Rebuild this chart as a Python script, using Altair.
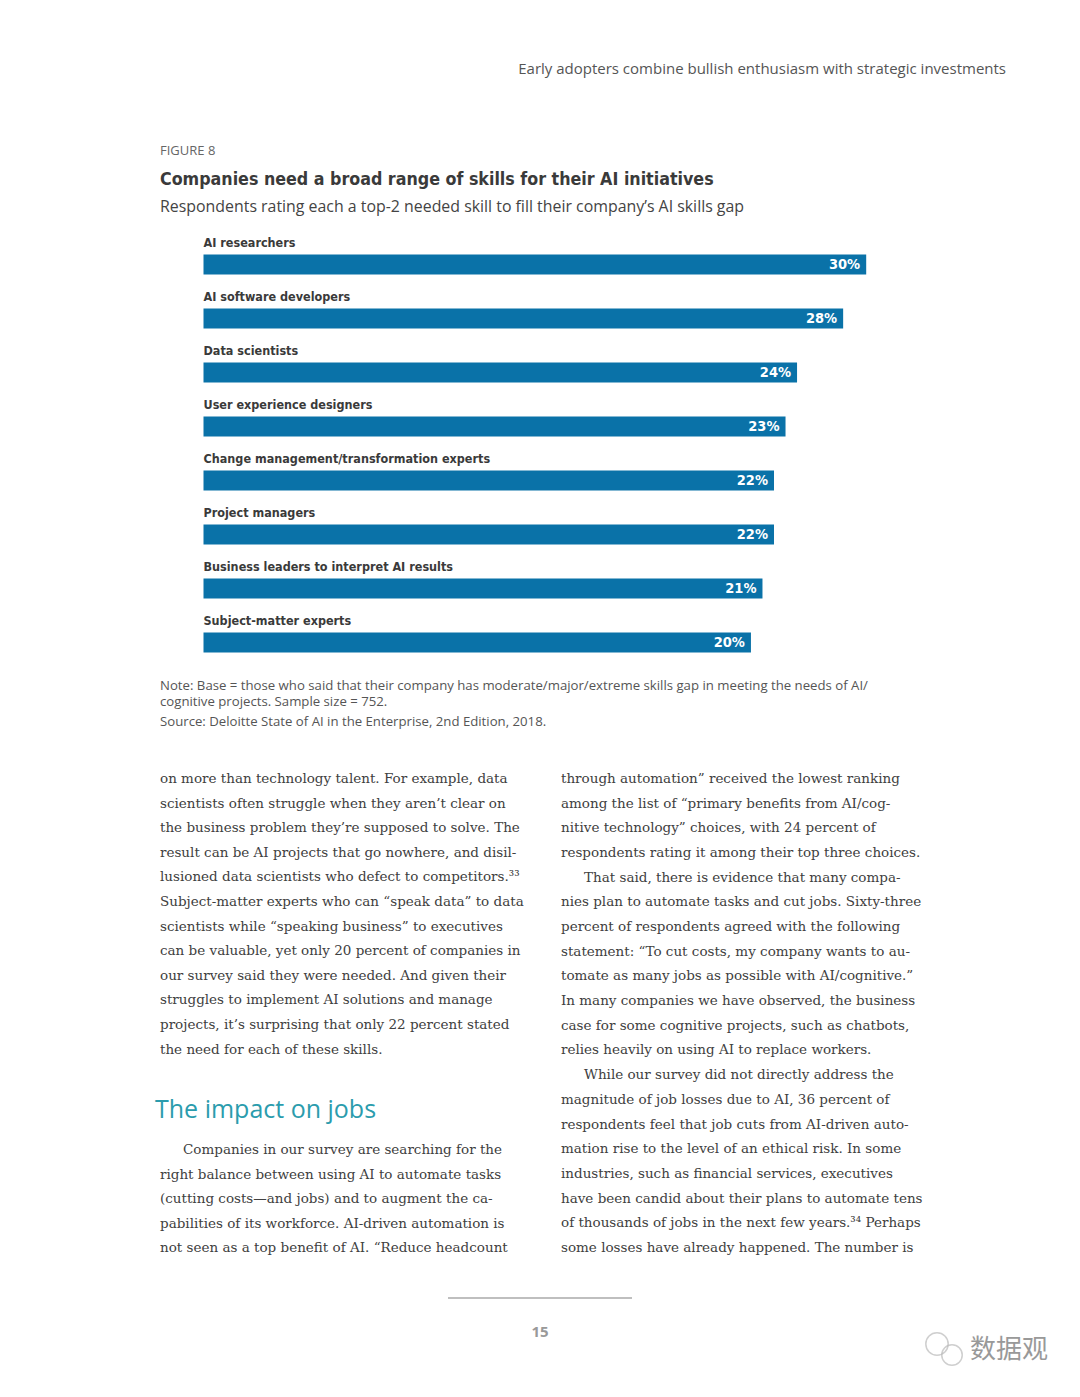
import altair as alt
import pandas as pd

# ---------------- data ----------------
skills = [
    "AI researchers",
    "AI software developers",
    "Data scientists",
    "User experience designers",
    "Change management/transformation experts",
    "Project managers",
    "Business leaders to interpret AI results",
    "Subject-matter experts",
]
values = [30, 28, 24, 23, 22, 22, 21, 20]
value_labels = [f"{v}%" for v in values]
# the original chart's value axis is truncated (bars do not start at 0)
axis_origin = -27.5
axis_max = 30

header = "Early adopters combine bullish enthusiasm with strategic investments"
figure_label = "FIGURE 8"
title = "Companies need a broad range of skills for their AI initiatives"
subtitle = "Respondents rating each a top-2 needed skill to fill their company’s AI skills gap"
note_lines = [
    "Note: Base = those who said that their company has moderate/major/extreme skills gap in meeting the needs of AI/",
    "cognitive projects. Sample size = 752.",
]
source = "Source: Deloitte State of AI in the Enterprise, 2nd Edition, 2018."

col1a = [
    "on more than technology talent. For example, data",
    "scientists often struggle when they aren’t clear on",
    "the business problem they’re supposed to solve. The",
    "result can be AI projects that go nowhere, and disil-",
    "lusioned data scientists who defect to competitors.³³",
    "Subject-matter experts who can “speak data” to data",
    "scientists while “speaking business” to executives",
    "can be valuable, yet only 20 percent of companies in",
    "our survey said they were needed. And given their",
    "struggles to implement AI solutions and manage",
    "projects, it’s surprising that only 22 percent stated",
    "the need for each of these skills.",
]
heading = "The impact on jobs"
col1b = [
    "Companies in our survey are searching for the",
    "right balance between using AI to automate tasks",
    "(cutting costs—and jobs) and to augment the ca-",
    "pabilities of its workforce. AI-driven automation is",
    "not seen as a top benefit of AI. “Reduce headcount",
]
col1b_indent = [1, 0, 0, 0, 0]
col2 = [
    "through automation” received the lowest ranking",
    "among the list of “primary benefits from AI/cog-",
    "nitive technology” choices, with 24 percent of",
    "respondents rating it among their top three choices.",
    "That said, there is evidence that many compa-",
    "nies plan to automate tasks and cut jobs. Sixty-three",
    "percent of respondents agreed with the following",
    "statement: “To cut costs, my company wants to au-",
    "tomate as many jobs as possible with AI/cognitive.”",
    "In many companies we have observed, the business",
    "case for some cognitive projects, such as chatbots,",
    "relies heavily on using AI to replace workers.",
    "While our survey did not directly address the",
    "magnitude of job losses due to AI, 36 percent of",
    "respondents feel that job cuts from AI-driven auto-",
    "mation rise to the level of an ethical risk. In some",
    "industries, such as financial services, executives",
    "have been candid about their plans to automate tens",
    "of thousands of jobs in the next few years.³⁴ Perhaps",
    "some losses have already happened. The number is",
]
col2_indent = [0, 0, 0, 0, 1, 0, 0, 0, 0, 0, 0, 0, 1, 0, 0, 0, 0, 0, 0, 0]
page_number = "15"
watermark = "数据观"

# ---------------- styles ----------------
COND = "Liberation Sans Narrow, DejaVu Sans Condensed, sans-serif"
SANS = "Open Sans, sans-serif"
SERIF = "DejaVu Serif, serif"
BLUE = "#0a72a8"
DARK = "#3a3a3a"
BODY = "#404040"
BODY_SIZE = 13.5

df = pd.DataFrame({"skill": skills, "value": values, "label": value_labels})

y_band = alt.Y(
    "skill:N", sort=skills, axis=None,
    scale=alt.Scale(range=[229.5, 661.5], paddingInner=0, paddingOuter=0),
)
x_scale = alt.Scale(domain=[axis_origin, axis_max], range=[195.5, 858.2], zero=False, nice=False)
x_val = alt.X("value:Q", axis=None, scale=x_scale)

bars = alt.Chart(df).mark_bar(size=20, color=BLUE).encode(
    x=x_val, x2=alt.datum(axis_origin), y=y_band
)
cat_labels = alt.Chart(df).mark_text(
    align="left", baseline="middle", dy=-21.5, font=COND, fontWeight="bold",
    fontSize=12.5, color=DARK
).encode(x=alt.value(195.5), y=y_band, text="skill:N")
val_labels = alt.Chart(df).mark_text(
    align="right", baseline="middle", dx=-6, font=COND, fontWeight="bold",
    fontSize=14.5, color="white"
).encode(x=x_val, y=y_band, text="label:N")


def static_text(txt, x, y, **kw):
    return alt.Chart(pd.DataFrame({"t": [txt]})).mark_text(baseline="middle", **kw).encode(
        x=alt.value(x), y=alt.value(y), text="t:N"
    )


def text_block(lines, x0, y0, step, indent=None, **kw):
    d = pd.DataFrame({
        "t": lines,
        "i": list(range(len(lines))),
        "ind": indent if indent is not None else [0] * len(lines),
    })
    return alt.Chart(d).mark_text(align="left", baseline="middle", **kw).encode(
        x=alt.X("ind:Q", axis=None,
                scale=alt.Scale(domain=[0, 1], range=[x0, x0 + 23], zero=False, nice=False)),
        y=alt.Y("i:Q", axis=None,
                scale=alt.Scale(domain=[0, 1], range=[y0, y0 + step], zero=False, nice=False)),
        text="t:N",
    )


layers = [
    static_text(header, 998, 61, align="right", font=SANS, fontSize=15, color="#555555"),
    static_text(figure_label, 152, 143, align="left", font=SANS, fontSize=13, color="#666666"),
    static_text(title, 152, 172, align="left", font=COND, fontWeight="bold", fontSize=17.7, color=DARK),
    static_text(subtitle, 152, 199, align="left", font=SANS, fontSize=15.9, color="#444444"),
    bars, cat_labels, val_labels,
    text_block(note_lines, 152, 678, 16, font=SANS, fontSize=13.2, color="#555555"),
    static_text(source, 152, 714, align="left", font=SANS, fontSize=13.2, color="#555555"),
    text_block(col1a, 152, 771, 24.6, font=SERIF, fontSize=BODY_SIZE, color=BODY),
    static_text(heading, 147, 1102, align="left", font=SANS, fontSize=25, color="#2b9cad"),
    text_block(col1b, 152, 1142, 24.5, indent=col1b_indent, font=SERIF, fontSize=BODY_SIZE, color=BODY),
    text_block(col2, 553, 771, 24.68, indent=col2_indent, font=SERIF, fontSize=BODY_SIZE, color=BODY),
    alt.Chart(pd.DataFrame({"a": [0]})).mark_rule(color="#aaaaaa", strokeWidth=1.5).encode(
        x=alt.value(440), x2=alt.value(624), y=alt.value(1290)
    ),
    static_text(page_number, 532, 1324, align="center", font=SANS, fontWeight="bold",
                fontSize=15, color="#999999"),
    static_text(watermark, 962, 1342, align="left", font="Noto Sans CJK SC, sans-serif",
                fontSize=26, color="#999999"),
    alt.Chart(pd.DataFrame({"a": [0]})).mark_point(
        shape="circle", filled=False, color="#bbbbbb", strokeWidth=1.5, size=500
    ).encode(x=alt.value(929), y=alt.value(1336)),
    alt.Chart(pd.DataFrame({"a": [0]})).mark_point(
        shape="circle", filled=False, color="#bbbbbb", strokeWidth=1.5, size=420
    ).encode(x=alt.value(944), y=alt.value(1347)),
]

chart = alt.layer(*layers).resolve_scale(x="independent", y="independent").properties(
    width=1064, height=1381, padding=0,
    autosize=alt.AutoSizeParams(type="none"),
    background="white",
).configure_view(stroke=None)

chart.save("out.html", embed_options={"renderer": "svg", "actions": False})
